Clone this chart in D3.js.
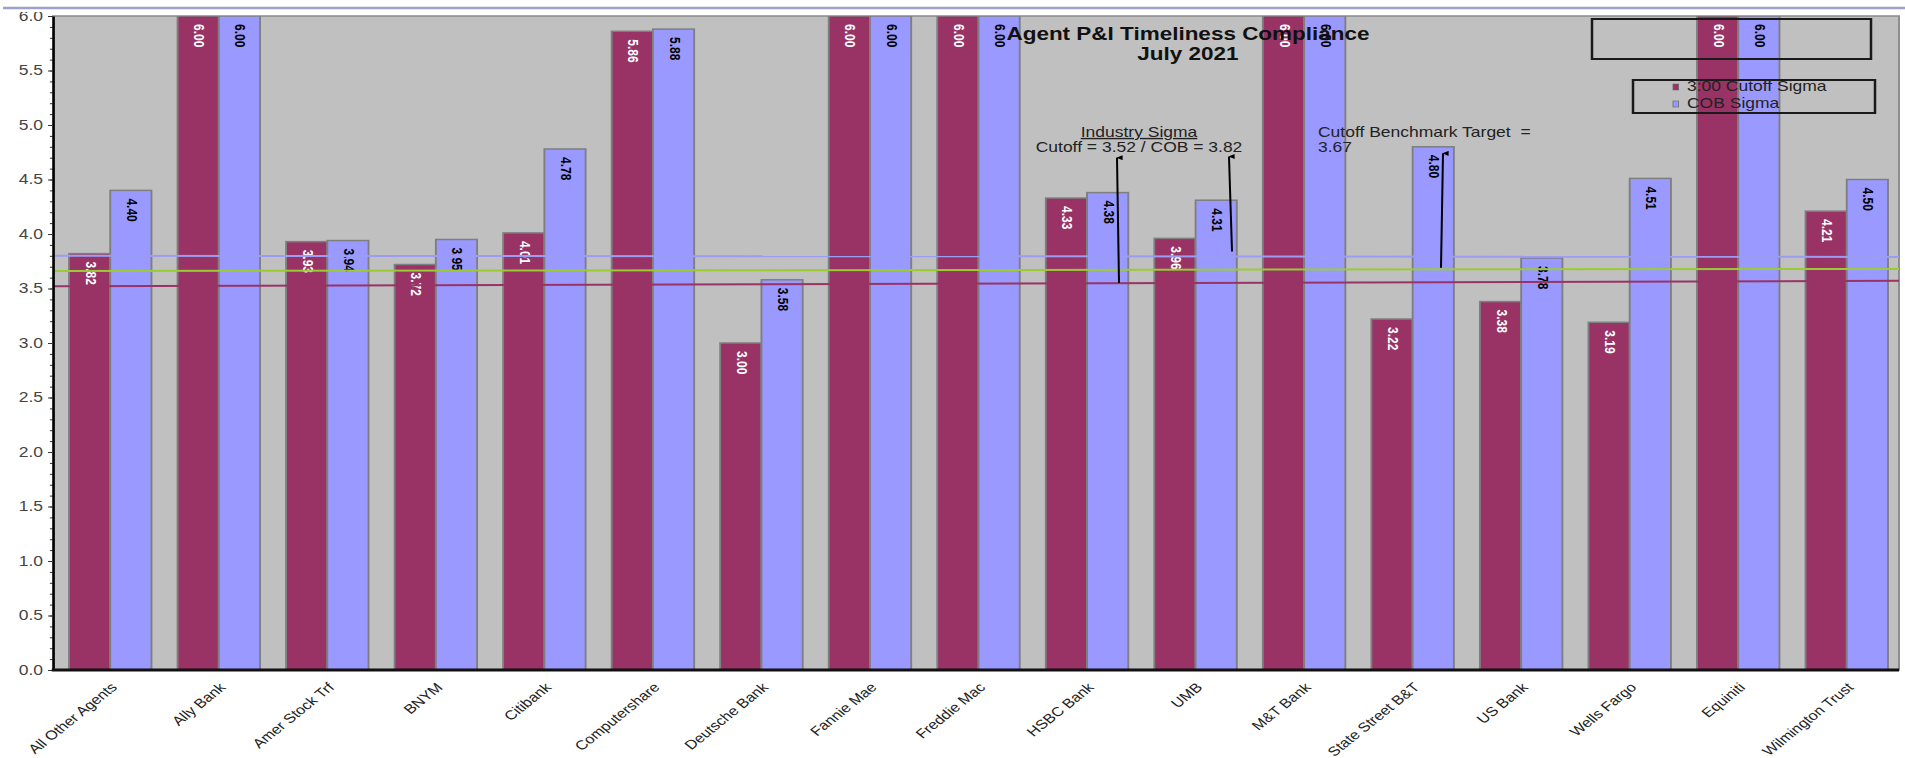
<!DOCTYPE html>
<html><head><meta charset="utf-8">
<script src="https://cdn.jsdelivr.net/npm/d3@7"></script>
<style>
html,body{margin:0;padding:0;background:#fff;overflow:hidden}
svg{display:block}
text{font-family:"Liberation Sans",Arial,sans-serif}
.pre{white-space:pre}
</style>
</head><body>
<svg id="chart" width="1905" height="758"></svg>
<script>
// ---------- data ----------
const categories = ["All Other Agents","Ally Bank","Amer Stock Trf","BNYM","Citibank","Computershare",
  "Deutsche Bank","Fannie Mae","Freddie Mac","HSBC Bank","UMB","M&T Bank","State Street B&T",
  "US Bank","Wells Fargo","Equiniti","Wilmington Trust"];
const cutoffSigma = [3.82,6.00,3.93,3.72,4.01,5.86,3.00,6.00,6.00,4.33,3.96,6.00,3.22,3.38,3.19,6.00,4.21];
const cobSigma    = [4.40,6.00,3.94,3.95,4.78,5.88,3.58,6.00,6.00,4.38,4.31,6.00,4.80,3.78,4.51,6.00,4.50];
const seriesNames = ["3:00 Cutoff Sigma","COB Sigma"];
const yTicks = [0,0.5,1,1.5,2,2.5,3,3.5,4,4.5,5,5.5,6];
// reference lines (value at left edge, value at right edge)
const refCOB = [3.80, 3.79];
const refBenchmark = [3.66, 3.68];
const refCutoff = [3.52, 3.57];
const titleLines = ["Agent P&I Timeliness Compliance","July 2021"];
const industryNote = ["Industry Sigma","Cutoff = 3.52 / COB = 3.82"];
const benchmarkNote = ["Cutoff Benchmark Target  =","3.67"];

// ---------- layout ----------
const W = 1905, H = 758;
const S = 1.25;               // horizontal stretch of the original picture
const X = v => v / S;         // page px -> inner units
const plotL = 53, plotR = 1899, plotT = 16, plotB = 670;
const colors = {cutoff:"#993366", cob:"#9999ff"};

const svg = d3.select("#chart");
const defs = svg.append("defs");
defs.append("clipPath").attr("id","pageClip").append("rect")
  .attr("x",0).attr("y",12).attr("width",X(W)).attr("height",H-12);
defs.append("clipPath").attr("id","plotClip").append("rect")
  .attr("x",X(plotL)).attr("y",plotT).attr("width",X(plotR-plotL)).attr("height",plotB-plotT);
defs.append("marker").attr("id","arrowHead").attr("viewBox","0 0 10 10")
  .attr("refX",5).attr("refY",1).attr("markerWidth",5).attr("markerHeight",7)
  .attr("markerUnits","userSpaceOnUse").attr("orient","auto-start-reverse")
  .append("path").attr("d","M0,10 L5,0 L10,10 Z").attr("fill","#000");

// top border line
svg.append("line").attr("x1",3).attr("x2",W).attr("y1",8).attr("y2",8)
  .attr("stroke","#a0a0cc").attr("stroke-width",2.5);

const root = svg.append("g").attr("transform",`scale(${S},1)`).attr("clip-path","url(#pageClip)");

// scales
const x = d3.scaleBand().domain(categories).range([X(69), X(1888)]).paddingInner(0.24).paddingOuter(0);
const sub = d3.scaleBand().domain(["cutoff","cob"]).range([0, x.bandwidth()]);
const y = d3.scaleLinear().domain([0,6]).range([plotB, plotT]);

// plot background
root.append("rect").attr("x",X(plotL)).attr("y",plotT).attr("width",X(plotR-plotL)).attr("height",plotB-plotT)
  .attr("fill","#c0c0c0").attr("stroke","#8a8a8a").attr("stroke-width",1.5);

// bars
const rows = categories.map((c,i)=>({cat:c, cutoff:cutoffSigma[i], cob:cobSigma[i]}));
const barsG = root.append("g").attr("clip-path","url(#plotClip)");
const grp = barsG.selectAll("g.grp").data(rows).join("g").attr("class","grp")
  .attr("transform",d=>`translate(${x(d.cat)},0)`);
grp.selectAll("rect").data(d=>["cutoff","cob"].map(k=>({k, v:d[k]}))).join("rect")
  .attr("x",d=>sub(d.k)).attr("width",sub.bandwidth())
  .attr("y",d=>y(d.v)).attr("height",d=>y(0)-y(d.v))
  .attr("fill",d=>colors[d.k]).attr("stroke","#7f7f7f").attr("stroke-width",1.5);

// value labels
grp.selectAll("text.val").data(d=>["cutoff","cob"].map(k=>({k, v:d[k]}))).join("text").attr("class","val")
  .each(function(d){
    const cx = sub(d.k)+sub.bandwidth()/2, cy = y(d.v)+8;
    d3.select(this).attr("x",cx).attr("y",cy)
      .attr("transform",`rotate(90,${cx},${cy})`);
  })
  .attr("dominant-baseline","middle").attr("font-size",12).attr("font-weight","bold")
  .attr("fill",d=>d.k==="cutoff"?"#ffffff":"#000000")
  .text(d=>d3.format(".2f")(d.v));

// reference lines
[[refCOB,"#9c9cf2"],[refBenchmark,"#99cc33"],[refCutoff,"#993366"]].forEach(([r,c])=>{
  root.append("line").attr("x1",X(plotL)).attr("x2",X(plotR))
    .attr("y1",y(r[0])).attr("y2",y(r[1])).attr("stroke",c).attr("stroke-width",2);
});

// y axis
const yAxisG = root.append("g").attr("transform",`translate(${X(plotL)},0)`);
yAxisG.call(d3.axisLeft(y).tickValues(d3.range(0,61).map(i=>i/10)).tickSize(2.5).tickFormat("").tickSizeOuter(0))
  .call(g=>g.select(".domain").remove())
  .call(g=>g.selectAll("line").attr("stroke","#333"));
const yAxisMaj = root.append("g").attr("transform",`translate(${X(plotL)},0)`);
yAxisMaj.call(d3.axisLeft(y).tickValues(yTicks).tickFormat(d3.format(".1f")).tickSize(4).tickPadding(4).tickSizeOuter(0))
  .call(g=>g.select(".domain").attr("stroke","#000").attr("stroke-width",2))
  .call(g=>g.selectAll("line").attr("stroke","#333"))
  .call(g=>g.selectAll("text").attr("font-size",14).attr("fill","#444").attr("font-family","'Liberation Sans',Arial,sans-serif"));

// x axis
root.append("line").attr("x1",X(plotL)-1).attr("x2",X(plotR)).attr("y1",plotB).attr("y2",plotB)
  .attr("stroke","#111").attr("stroke-width",3);
const xAxisG = root.append("g").attr("transform",`translate(0,${plotB})`);
xAxisG.call(d3.axisBottom(x).tickSize(0).tickSizeOuter(0))
  .call(g=>g.select(".domain").remove())
  .call(g=>g.selectAll("text")
    .attr("x",0).attr("y",0).attr("dy","0.35em")
    .attr("transform","translate(3,15) rotate(-45)")
    .attr("text-anchor","end").attr("font-size",13).attr("fill","#222")
    .attr("font-family","'Liberation Sans',Arial,sans-serif"));

// title
root.selectAll("text.title").data(titleLines).join("text").attr("class","title")
  .attr("x",X(1188)).attr("y",(d,i)=>40+i*20).attr("text-anchor","middle")
  .attr("font-size",18).attr("font-weight","bold").attr("fill","#111").text(d=>d);

// empty box + legend
root.append("rect").attr("x",X(1592)).attr("y",19).attr("width",X(1871-1592)).attr("height",40)
  .attr("fill","none").attr("stroke","#1a1a1a").attr("stroke-width",2);
root.append("rect").attr("x",X(1633)).attr("y",80).attr("width",X(1875-1633)).attr("height",33)
  .attr("fill","none").attr("stroke","#1a1a1a").attr("stroke-width",2);
const leg = root.selectAll("g.leg").data(seriesNames).join("g").attr("class","leg")
  .attr("transform",(d,i)=>`translate(${X(1673)},${91+i*17})`);
leg.append("rect").attr("x",0).attr("y",-7).attr("width",4.5).attr("height",6)
  .attr("fill",(d,i)=>i===0?colors.cutoff:colors.cob).attr("stroke","#666").attr("stroke-width",0.6);
leg.append("text").attr("x",X(1687)-X(1673)).attr("y",0).attr("font-size",14).attr("fill","#222").text(d=>d);

// annotations
root.append("text").attr("x",X(1139)).attr("y",137).attr("text-anchor","middle")
  .attr("font-size",14).attr("fill","#222").attr("text-decoration","underline").text(industryNote[0]);
root.append("text").attr("x",X(1139)).attr("y",152).attr("text-anchor","middle")
  .attr("font-size",14).attr("fill","#222").text(industryNote[1]);
root.selectAll("text.bench").data(benchmarkNote).join("text").attr("class","bench pre")
  .attr("x",X(1318)).attr("y",(d,i)=>137+i*15).attr("font-size",14).attr("fill","#222").text(d=>d);

// arrows (tail value -> head value)
const arrows = [
  {xt:1119, vt:3.55, xh:1117, vh:4.70},
  {xt:1232, vt:3.84, xh:1229, vh:4.71},
  {xt:1441, vt:3.69, xh:1443, vh:4.74}
];
root.selectAll("line.arrow").data(arrows).join("line").attr("class","arrow")
  .attr("x1",d=>X(d.xt)).attr("y1",d=>y(d.vt)).attr("x2",d=>X(d.xh)).attr("y2",d=>y(d.vh))
  .attr("stroke","#000").attr("stroke-width",1.6).attr("marker-end","url(#arrowHead)");
</script>
</body></html>
